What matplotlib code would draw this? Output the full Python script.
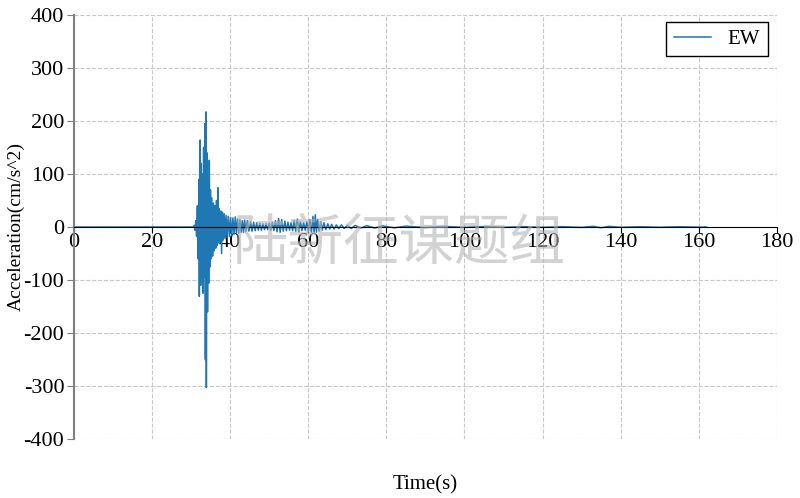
import matplotlib
matplotlib.use('Agg')
import matplotlib.pyplot as plt

plt.rcParams['font.family'] = ['Liberation Serif', 'DejaVu Serif']
plt.rcParams['axes.unicode_minus'] = False

# 地震动时程（EW 分量），从图上读取的峰值点
time_s = [0, 30.5, 30.8, 31.0, 31.2, 31.4, 31.6, 31.8, 32.0, 32.1, 32.3, 32.45, 32.6, 32.75,
          32.9, 33.05, 33.2, 33.35, 33.5, 33.65, 33.8, 33.9, 34.05, 34.2, 34.35, 34.5, 34.65,
          34.8, 34.95, 35.1, 35.3, 35.5, 35.7, 35.9, 36.1, 36.3, 36.5, 36.7, 36.85, 37.0, 37.2,
          37.4, 37.6, 37.8, 38.0, 38.2, 38.45, 38.7, 38.95, 39.2, 39.5, 39.8, 40.1, 40.4, 40.7,
          41.0, 41.3, 41.6, 41.9, 42.2, 42.5, 42.8, 43.1, 43.4, 43.7, 44.0, 44.4, 44.8, 45.2,
          45.6, 46.0, 46.4, 46.8, 47.2, 47.6, 48.0, 48.4, 48.8, 49.2, 49.6, 50.0, 50.4, 50.8,
          51.2, 51.6, 52.0, 52.4, 52.8, 53.2, 53.6, 54.0, 54.4, 54.8, 55.2, 55.6, 56.0, 56.4,
          56.8, 57.2, 57.6, 58.0, 58.4, 58.8, 59.2, 59.6, 60.0, 60.4, 60.8, 61.2, 61.5, 61.8,
          62.1, 62.4, 62.8, 63.2, 63.6, 64.0, 64.5, 65.0, 65.5, 66.0, 66.6, 67.2, 67.8, 68.5,
          69.2, 70.0, 71.0, 72.0, 73.5, 75.0, 77.0, 79.0, 82.0, 85.0, 90, 95, 100, 105, 110,
          115, 120, 125, 130, 133, 135, 137, 140, 145, 150, 155, 160, 162]
acc_ew = [0, 0, 3, -6, 12, -18, 40, -60, 90, -131, 164, -110, 120, -95,
          100, -125, 150, -95, 195, -250, 217, -303, 140, -160, 90, -106, 126,
          -75, 70, -60, 55, -55, 45, -45, 40, -40, 50, -35, 74, -30, 35,
          -28, 30, -50, 28, -25, 25, -22, 22, -20, 20, -18, 18, -16, 17,
          -14, 19, -12, 15, -12, 14, -10, 12, -10, 13, -9, 12, -8, 10,
          -8, 9, -7, 8, -6, 7, -6, 6, -5, 6, -5, 7, -6, 9,
          -7, 12, -9, 16, -10, 14, -8, 11, -7, 9, -6, 8, -7, 12,
          -8, 15, -9, 10, -7, 8, -6, 10, -8, 14, -10, 20, -12, 23,
          -10, 14, -8, 10, -6, 8, -5, 6, -4, 5, -4, 4, -3, 4,
          -3, 3, -3, 3, -2, 2.5, -2, 2, -1.5, 1.5, -1, 1, -0.8, 0.8, -0.6,
          0.6, -0.6, 0.6, -0.8, 1.2, -1.5, 1.2, -0.6, 0.5, -0.5, 0.5, -0.3, 0]

x_ticks = list(range(0, 181, 20))
y_ticks = list(range(-400, 401, 100))

fig = plt.figure(figsize=(8, 4.98), dpi=100)
ax = fig.add_axes([0.0925, 0.1185, 0.8785, 0.8515])

ax.plot(time_s, acc_ew, color='#1f77b4', lw=1.1, label='EW')

ax.set_xlim(0, 180)
ax.set_ylim(-400, 400)
ax.set_xticks(x_ticks)
ax.set_yticks(y_ticks)
ax.grid(True, ls='--', color='#c8c8c8', lw=0.8)

# 坐标轴放在 0 处
ax.spines['top'].set_visible(False)
ax.spines['right'].set_visible(False)
ax.spines['bottom'].set_position(('data', 0))
ax.spines['bottom'].set_color('black')
ax.spines['left'].set_color('#7f7f7f')
ax.spines['left'].set_linewidth(1.5)
ax.tick_params(axis='y', colors='#7f7f7f', labelcolor='black', labelsize=16, length=5, pad=2)
ax.tick_params(axis='x', labelsize=16, length=4, pad=0)

ax.set_xlabel('Time(s)', fontsize=15)
ax.xaxis.set_label_coords(0.5, -0.085)
ax.set_ylabel('Acceleration(cm/s^2)', fontsize=14)
ax.yaxis.set_label_coords(-0.07, 0.5)

leg = ax.legend(loc='upper right', fontsize=15, fancybox=False, framealpha=1,
                edgecolor='black', handlelength=1.8, borderpad=0.35,
                borderaxespad=0, bbox_to_anchor=(0.987, 0.983))
leg.get_frame().set_linewidth(1.0)

# 水印
fig.text(0.499, 0.51, '陆新征课题组', family=['Noto Sans CJK SC'], fontsize=40,
         color='#b4b4b4', alpha=0.6, ha='center', va='center')

fig.savefig('out.png', dpi=100)
